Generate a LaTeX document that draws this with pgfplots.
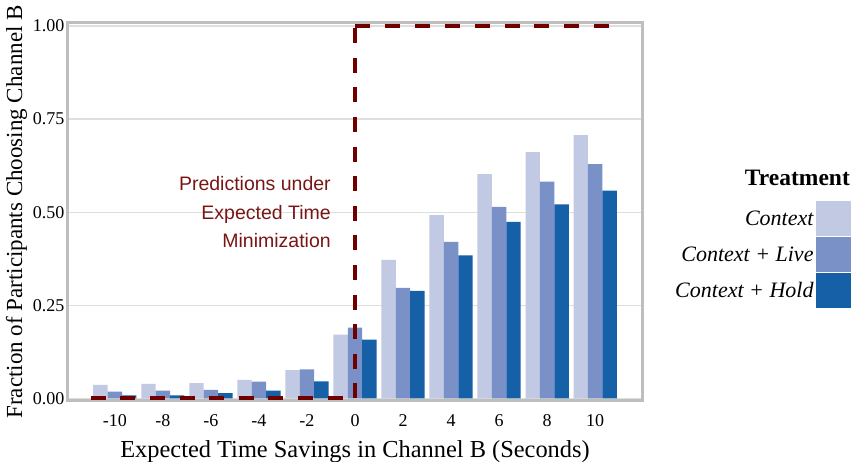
\documentclass[border=0pt]{standalone}
\usepackage{pgfplots}
\pgfplotsset{compat=1.18}
\usepackage{fontspec}
\setmainfont{Liberation Serif}
\newfontfamily\annfont{Liberation Sans}
\definecolor{lightB}{HTML}{C1C9E3}
\definecolor{midB}{HTML}{7991C6}
\definecolor{darkB}{HTML}{1560A6}
\definecolor{lineRed}{HTML}{700000}
\definecolor{annRed}{HTML}{7A1515}
\definecolor{frameGray}{HTML}{BEBEBE}
\definecolor{gridGray}{HTML}{DEDEDE}
\begin{document}
\begin{tikzpicture}
\path[use as bounding box] (-68pt,-61pt) rectangle (784pt,401pt);
\begin{axis}[
  at={(0pt,0pt)}, anchor=south west,
  scale only axis, width=574pt, height=378pt,
  xmin=-11.95, xmax=11.95, ymin=-0.007, ymax=1.008,
  xtick={-10,-8,-6,-4,-2,0,2,4,6,8,10},
  ytick={0,0.25,0.5,0.75,1},
  yticklabel style={/pgf/number format/.cd, fixed, fixed zerofill, precision=2},
  /pgf/number format/assume math mode=true,
  tick label style={font=\fontsize{18}{18}\selectfont},
  xticklabel style={yshift=-10pt},
  major tick length=0pt,
  ymajorgrids, grid style={draw=gridGray, line width=1.2pt},
  axis line style={draw=frameGray, line width=3pt},
  xlabel={Expected Time Savings in Channel B (Seconds)},
  ylabel={Fraction of Participants Choosing Channel B},
  xlabel style={at={(axis description cs:0.5,-0.1508)}, anchor=base, font=\fontsize{24.4}{24.4}\selectfont},
  ylabel style={at={(axis description cs:-0.0801,0.5)}, anchor=base, font=\fontsize{23}{23}\selectfont},
  legend style={at={(axis description cs:1.3641,0.5291)}, anchor=north east, draw=none, fill=none,
    inner sep=0pt, outer sep=0pt, row sep=1pt, font=\itshape\fontsize{22}{22}\selectfont,
    nodes={inner xsep=2.5pt, inner ysep=0pt}},
  legend cell align=right, legend plot pos=right,
  legend image code/.code={\fill[#1] (0pt,-17.5pt) rectangle (35pt,17.5pt);},
  clip=false,
]
\addplot[ybar, bar width=0.6, bar shift=-0.6, fill=lightB, draw=none] coordinates {
(-10,0.036) (-8,0.039) (-6,0.041) (-4,0.050) (-2,0.076) (0,0.171) (2,0.372) (4,0.492) (6,0.602) (8,0.661) (10,0.707)};
\addlegendentry{Context}
\addplot[ybar, bar width=0.6, bar shift=0, fill=midB, draw=none] coordinates {
(-10,0.018) (-8,0.021) (-6,0.023) (-4,0.045) (-2,0.078) (0,0.190) (2,0.297) (4,0.420) (6,0.514) (8,0.582) (10,0.629)};
\addlegendentry{Context + Live}
\addplot[ybar, bar width=0.6, bar shift=0.6, fill=darkB, draw=none] coordinates {
(-10,0.008) (-8,0.008) (-6,0.014) (-4,0.021) (-2,0.046) (0,0.158) (2,0.289) (4,0.384) (6,0.474) (8,0.521) (10,0.558)};
\addlegendentry{Context + Hold}
\addplot[color=lineRed, line width=4pt, dash pattern=on 15pt off 14.6pt, forget plot] coordinates {
(-11,0) (0,0)};
\addplot[color=lineRed, line width=4pt, dash pattern=on 15pt off 14.6pt, forget plot] coordinates {
(0,0) (0,1)};
\addplot[color=lineRed, line width=4pt, dash pattern=on 15pt off 14.9pt, forget plot] coordinates {
(0,1) (11,1)};
\node[anchor=east, align=right, inner sep=0pt, text=annRed, font=\annfont\fontsize{19.5}{28.5}\selectfont]
  at (axis cs:-1,0.5) {Predictions under\\Expected Time\\Minimization};
\node[anchor=base east, inner sep=0pt, font=\bfseries\fontsize{23.5}{23.5}\selectfont]
  at (axis description cs:1.3624,0.5688) {Treatment};
\end{axis}
\end{tikzpicture}
\end{document}
